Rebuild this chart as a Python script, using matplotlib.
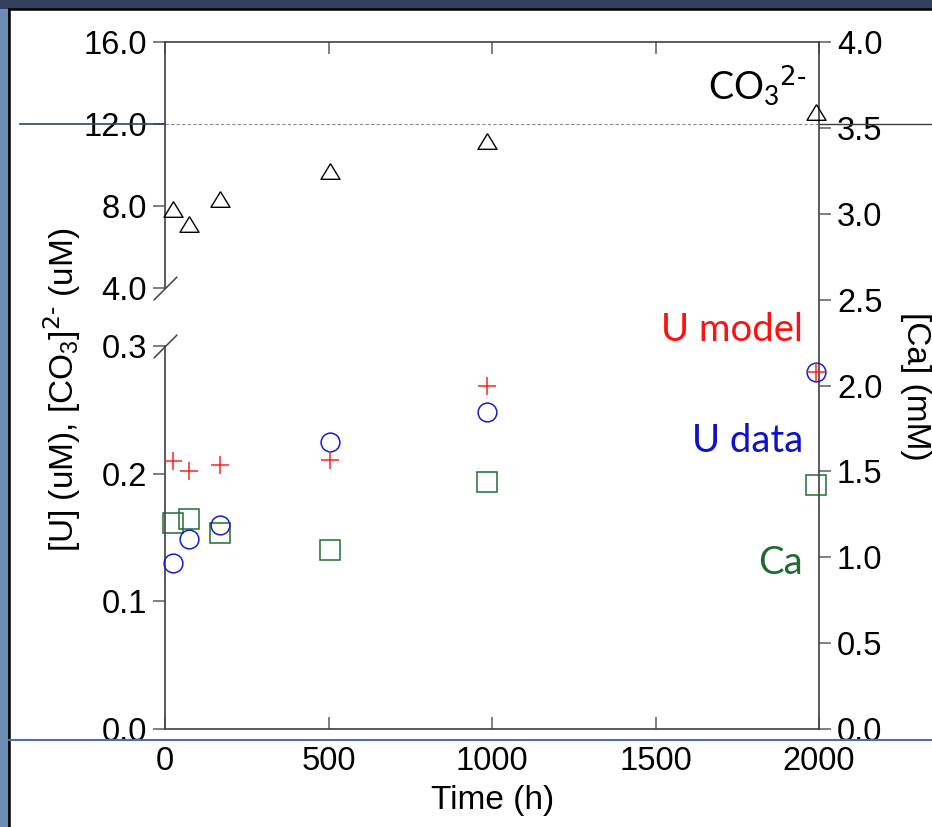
import matplotlib
matplotlib.use("Agg")
from matplotlib import pyplot as plt
from matplotlib.patches import Rectangle
from matplotlib.lines import Line2D

plt.rcParams['font.family'] = ['Liberation Sans', 'DejaVu Sans']
plt.rcParams['mathtext.default'] = 'regular'

# data
time_h = [24, 72, 168, 504, 984, 1992]
u_model = [0.210, 0.202, 0.207, 0.211, 0.269, 0.280]
u_data = [0.130, 0.149, 0.160, 0.225, 0.248, 0.280]
ca_mM = [1.20, 1.22, 1.14, 1.04, 1.44, 1.42]
co3_uM = [7.85, 7.11, 8.33, 9.73, 11.17, 12.57]

x_ticks = [0, 500, 1000, 1500, 2000]
ca_ticks = [0.0, 0.5, 1.0, 1.5, 2.0, 2.5, 3.0, 3.5, 4.0]
low_ticks = [0.0, 0.1, 0.2, 0.3]
up_ticks = [4.0, 8.0, 12.0, 16.0]

W, H = 932, 827
fx = lambda px: px / W
fy = lambda py: 1 - py / H

fig = plt.figure(figsize=(W / 100, H / 100), dpi=100)
fig.patch.set_facecolor('#33415e')

# slide background pieces
fig.add_artist(Rectangle((0, 0), fx(8), fy(9), transform=fig.transFigure,
                         facecolor='#6d8db5', edgecolor='none', zorder=0))
fig.add_artist(Rectangle((fx(9), -0.1), 1.2, fy(9) + 0.1, transform=fig.transFigure,
                         facecolor='white', edgecolor='none', zorder=0))
fig.add_artist(Line2D([fx(9), fx(9)], [0, fy(9)], transform=fig.transFigure,
                      color='black', lw=1.8))
fig.add_artist(Line2D([fx(9), 1], [fy(9), fy(9)], transform=fig.transFigure,
                      color='black', lw=1.8))

spine_c = '#404040'
tick_c = '#6a6a6a'
tick_fs = 23.5

# main axes: x axis, top spine, right Ca axis
ax = fig.add_axes([fx(165), fy(729), fx(819) - fx(165), fy(42) - fy(729)])
ax.patch.set_alpha(0)
ax.set_xlim(0, 2000)
ax.set_ylim(0, 4.0)
ax.spines['left'].set_visible(False)
for s in ['top', 'bottom', 'right']:
    ax.spines[s].set_color(spine_c)
    ax.spines[s].set_linewidth(1.2)
ax.yaxis.tick_right()
ax.set_yticks(ca_ticks)
ax.set_yticklabels([f'{v:.1f}' for v in ca_ticks])
ax.set_xticks(x_ticks)
ax.set_xticklabels([str(v) for v in x_ticks])
ax.tick_params(axis='x', direction='in', top=True, length=8.6, width=1.2,
               color=tick_c, labelsize=tick_fs, pad=12)
ax.tick_params(axis='y', direction='out', right=True, left=False, length=8.6,
               width=1.2, color=tick_c, labelsize=tick_fs, pad=4.3)
ax.plot(time_h, ca_mM, ls='none', marker='s', ms=13.7, mfc='none',
        mec='#1f6e33', mew=1.1, clip_on=False, zorder=3)

# broken left axis: lower part for U, upper part for CO3
ax_low = fig.add_axes([fx(165), fy(729), fx(819) - fx(165), fy(346) - fy(729)])
ax_up = fig.add_axes([fx(165), fy(288), fx(819) - fx(165), fy(42) - fy(288)])
for a, lim, ticks in [(ax_low, (0, 0.3), low_ticks), (ax_up, (4, 16), up_ticks)]:
    a.patch.set_alpha(0)
    a.set_xlim(0, 2000)
    a.set_ylim(*lim)
    for s in ['top', 'bottom', 'right']:
        a.spines[s].set_visible(False)
    a.spines['left'].set_color(spine_c)
    a.spines['left'].set_linewidth(1.2)
    a.set_xticks([])
    a.set_yticks(ticks)
    a.set_yticklabels([f'{v:.1f}' for v in ticks])
    a.tick_params(axis='y', direction='out', length=8.6, width=1.2,
                  color=tick_c, labelsize=tick_fs, pad=4.3)

ax_low.plot(time_h, u_data, ls='none', marker='o', ms=13.5, mfc='none',
            mec='#1a1ad8', mew=1.1, clip_on=False, zorder=3)
ax_low.plot(time_h, u_model, ls='none', marker='+', ms=13.5,
            mec='#ff2020', mew=1.1, clip_on=False, zorder=4)

tri = [(0, 0.82), (-1, -0.82), (1, -0.82), (0, 0.82)]
ax_up.plot(time_h, co3_uM, ls='none', marker=tri, ms=13.7, mfc='none',
           mec='black', mew=1.0, clip_on=False, zorder=3)
ax_up.axhline(12.0, ls=(0, (3, 2)), color='#8a8a8a', lw=0.8, zorder=1)

# axis break marks
slash = [(-1, -1), (1, 1)]
ax_up.plot([0], [4], marker=slash, ms=17, mec=spine_c, mew=1.1, clip_on=False)
ax_low.plot([0], [0.3], marker=slash, ms=17, mec=spine_c, mew=1.1, clip_on=False)

# slide decoration lines
fig.add_artist(Line2D([fx(20), fx(165)], [fy(124), fy(124)], transform=fig.transFigure,
                      color='#2e4466', lw=1.2))
fig.add_artist(Line2D([fx(819), 1], [fy(124), fy(124)], transform=fig.transFigure,
                      color='#3a3a3a', lw=1.0))
fig.add_artist(Line2D([fx(9), 1], [fy(740), fy(740)], transform=fig.transFigure,
                      color='#4f6f9f', lw=1.5))

# axis labels
fig.text(fx(493), fy(801), 'Time (h)', ha='center', va='center', fontsize=24)
fig.text(fx(62), fy(390), r'[U] (uM), [CO$_3$]$^{\text{2-}}$ (uM)', rotation=90,
         ha='center', va='center', fontsize=24)
fig.text(fx(916), fy(386), '[Ca] (mM)', rotation=270, ha='center', va='center',
         fontsize=24)

# series names
ann = dict(ha='right', va='baseline', family=['Lato', 'DejaVu Sans'], fontsize=27.5)
fig.text(fx(803), fy(341), 'U model', color='#ff1010', **ann)
fig.text(fx(803), fy(452), 'U data', color='#1010c8', **ann)
fig.text(fx(803), fy(574), 'Ca', color='#1e6b30', **ann)
fig.text(fx(708), fy(100), r'CO$_3$$^{\text{2-}}$', color='black', ha='left',
         va='baseline', family=['Lato', 'DejaVu Sans'], fontsize=27)

fig.savefig('out.png', dpi=100, facecolor=fig.get_facecolor())
